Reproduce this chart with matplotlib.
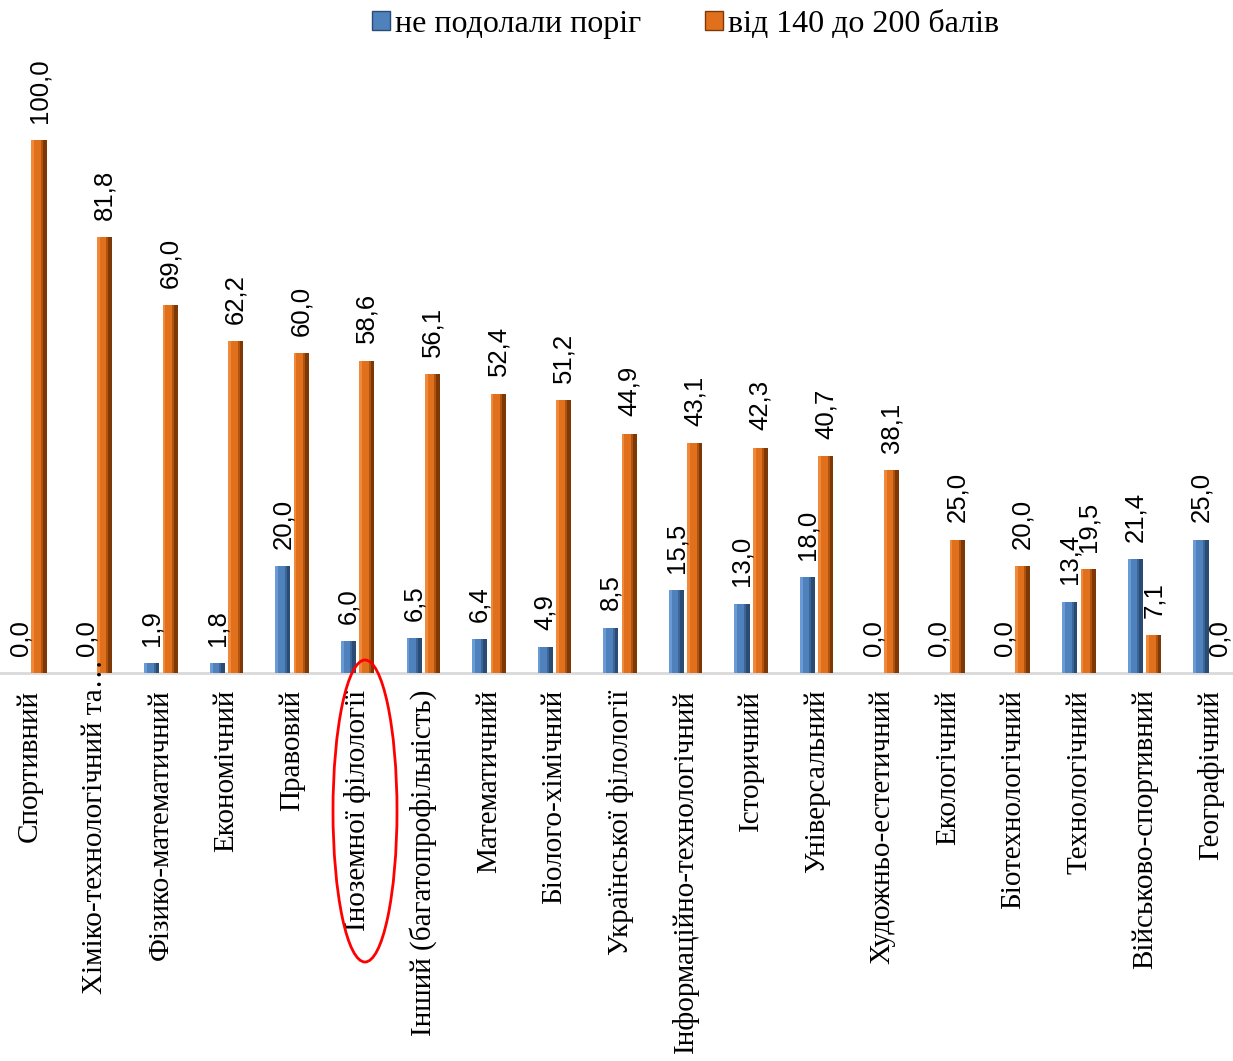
import numpy as np
import matplotlib.pyplot as plt
from matplotlib.patches import Patch, Ellipse

# profiles and shares (%)
profiles = ['Спортивний', 'Хіміко-технологічний та…', 'Фізико-математичний', 'Економічний',
            'Правовий', 'Іноземної філології', 'Інший (багатопрофільність)', 'Математичний',
            'Біолого-хімічний', 'Української філології', 'Інформаційно-технологічний',
            'Історичний', 'Універсальний', 'Художньо-естетичний', 'Екологічний',
            'Біотехнологічний', 'Технологічний', 'Військово-спортивний', 'Географічний']
not_passed = [0.0, 0.0, 1.9, 1.8, 20.0, 6.0, 6.5, 6.4, 4.9, 8.5, 15.5, 13.0, 18.0,
              0.0, 0.0, 0.0, 13.4, 21.4, 25.0]
high_score = [100.0, 81.8, 69.0, 62.2, 60.0, 58.6, 56.1, 52.4, 51.2, 44.9, 43.1, 42.3,
              40.7, 38.1, 25.0, 20.0, 19.5, 7.1, 0.0]
legend_labels = ['не подолали поріг', 'від 140 до 200 балів']

blue = ['#6A9BD6', '#4F81BD', '#2A4B74']
orange = ['#F0893A', '#E0701C', '#7E3806']

fig = plt.figure(figsize=(12.33, 10.61), dpi=100)
ax = fig.add_axes([-0.0024, 0.3657, 1.0105, 0.6028])
ax.set_xlim(-0.5, len(profiles) - 0.5)
ax.set_ylim(0, 120)
ax.axis('off')

x = np.arange(len(profiles))
w = 0.23
off = 0.14

def bevel_bars(xc, vals, cols):
    ax.bar(xc, vals, w, color=cols[1], zorder=2)
    # light left edge, dark right edge
    ax.bar(xc - w * 0.5, vals, w * 0.18, align='edge', color=cols[0], zorder=3)
    ax.bar(xc + w * 0.12, vals, w * 0.13, align='edge', color=cols[2], alpha=0.5, zorder=3)
    ax.bar(xc + w * 0.25, vals, w * 0.25, align='edge', color=cols[2], zorder=3)

bevel_bars(x - off, not_passed, blue)
bevel_bars(x + off, high_score, orange)

ax.axhline(0, color='#D9D9D9', lw=2, zorder=1, clip_on=False)

for i in range(len(profiles)):
    for xv, v in ((x[i] - off, not_passed[i]), (x[i] + off, high_score[i])):
        ax.annotate(f'{v:.1f}'.replace('.', ','), xy=(xv, v), xytext=(0, 12.5),
                    textcoords='offset points', rotation=90, ha='center', va='bottom',
                    fontsize=18.5, family='Liberation Sans')
    dy = 10 if profiles[i].endswith('…') else -12
    ax.annotate(profiles[i], xy=(x[i], 0), xytext=(0, dy), textcoords='offset points',
                rotation=90, ha='center', va='top', fontsize=21, family='Liberation Serif')

handles = [Patch(facecolor=blue[1], edgecolor=blue[2]), Patch(facecolor=orange[1], edgecolor=orange[2])]
fig.legend(handles, legend_labels, loc='upper center', bbox_to_anchor=(0.556, 1.018), ncol=2,
           frameon=False, prop={'family': 'Liberation Serif', 'size': 23},
           handlelength=0.56, handleheight=0.56, handletextpad=0.15, columnspacing=2.0)

fig.patches.append(Ellipse((365 / 1233, 1 - 811 / 1061), 64 / 1233, 302 / 1061,
                           transform=fig.transFigure, fill=False, edgecolor='red', lw=2))

fig.savefig('out.png', dpi=100)
